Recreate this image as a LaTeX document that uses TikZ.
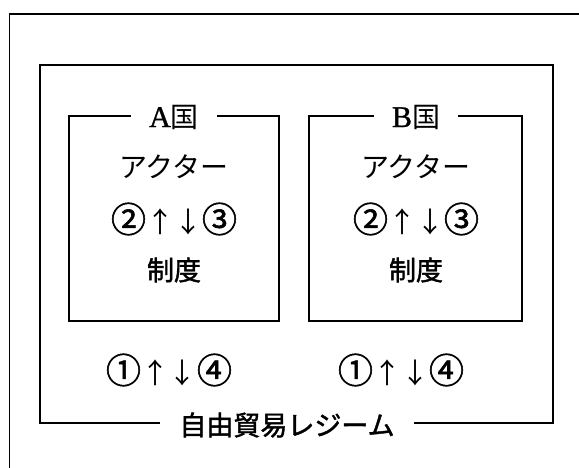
\documentclass[tikz,border=0pt]{standalone}
\usepackage{fontspec}
\newfontfamily\jp{Noto Sans CJK JP}
\newfontfamily\jpb[FakeBold=1.6]{Noto Sans CJK JP}
\newfontfamily\ser[FakeBold=1]{Liberation Serif}
\newcommand{\cdig}[1]{{\jpb\fontsize{35}{32}\selectfont #1}}
\begin{document}
\begin{tikzpicture}[x=1pt,y=-1pt,
  frame/.style={draw=black,line width=1.7pt},
  txt/.style={inner sep=0pt,font=\jp\fontsize{28}{32}\selectfont},
  boldtxt/.style={inner sep=0pt,font=\jpb\fontsize{27}{32}\selectfont},
  lab/.style={fill=white,inner xsep=18pt,inner ysep=3pt,font=\fontsize{28}{32}\selectfont}]
\useasboundingbox (0,0) rectangle (579,468);
% outer frame (partly outside the picture)
\coordinate (o1) at (579,14);
\coordinate (o2) at (9.5,14);
\coordinate (o3) at (9.5,468);
\draw[frame] (o1) -- (o2) -- (o3);
% regime frame
\draw[frame] (40,65) rectangle (553,423);
% country boxes
\draw[frame] (69,116) rectangle (279,321);
\draw[frame] (309,116) rectangle (522,321);
% box labels
\node[lab] (la) at (174,117) {{\ser\fontsize{30}{32}\selectfont A}{\jp 国}};
\node[lab] (lb) at (416,117) {{\ser\fontsize{30}{32}\selectfont B}{\jp 国}};
% country A
\node[txt] (aA) at (174,167) {アクター};
\node[txt] (aR) at (174,219) {\cdig{②}↑↓\cdig{③}};
\node[boldtxt] (aI) at (174,270) {制度};
% country B
\node[txt] (bA) at (416,167) {アクター};
\node[txt] (bR) at (416,219) {\cdig{②}↑↓\cdig{③}};
\node[boldtxt] (bI) at (416,270) {制度};
% regime interactions
\node[txt] (aL) at (169,370) {\cdig{①}↑↓\cdig{④}};
\node[txt] (bL) at (401,370) {\cdig{①}↑↓\cdig{④}};
% regime label
\node[lab,font=\jpb\fontsize{27}{32}\selectfont,inner xsep=19pt] (rg) at (287,425) {自由貿易レジーム};
\end{tikzpicture}
\end{document}
